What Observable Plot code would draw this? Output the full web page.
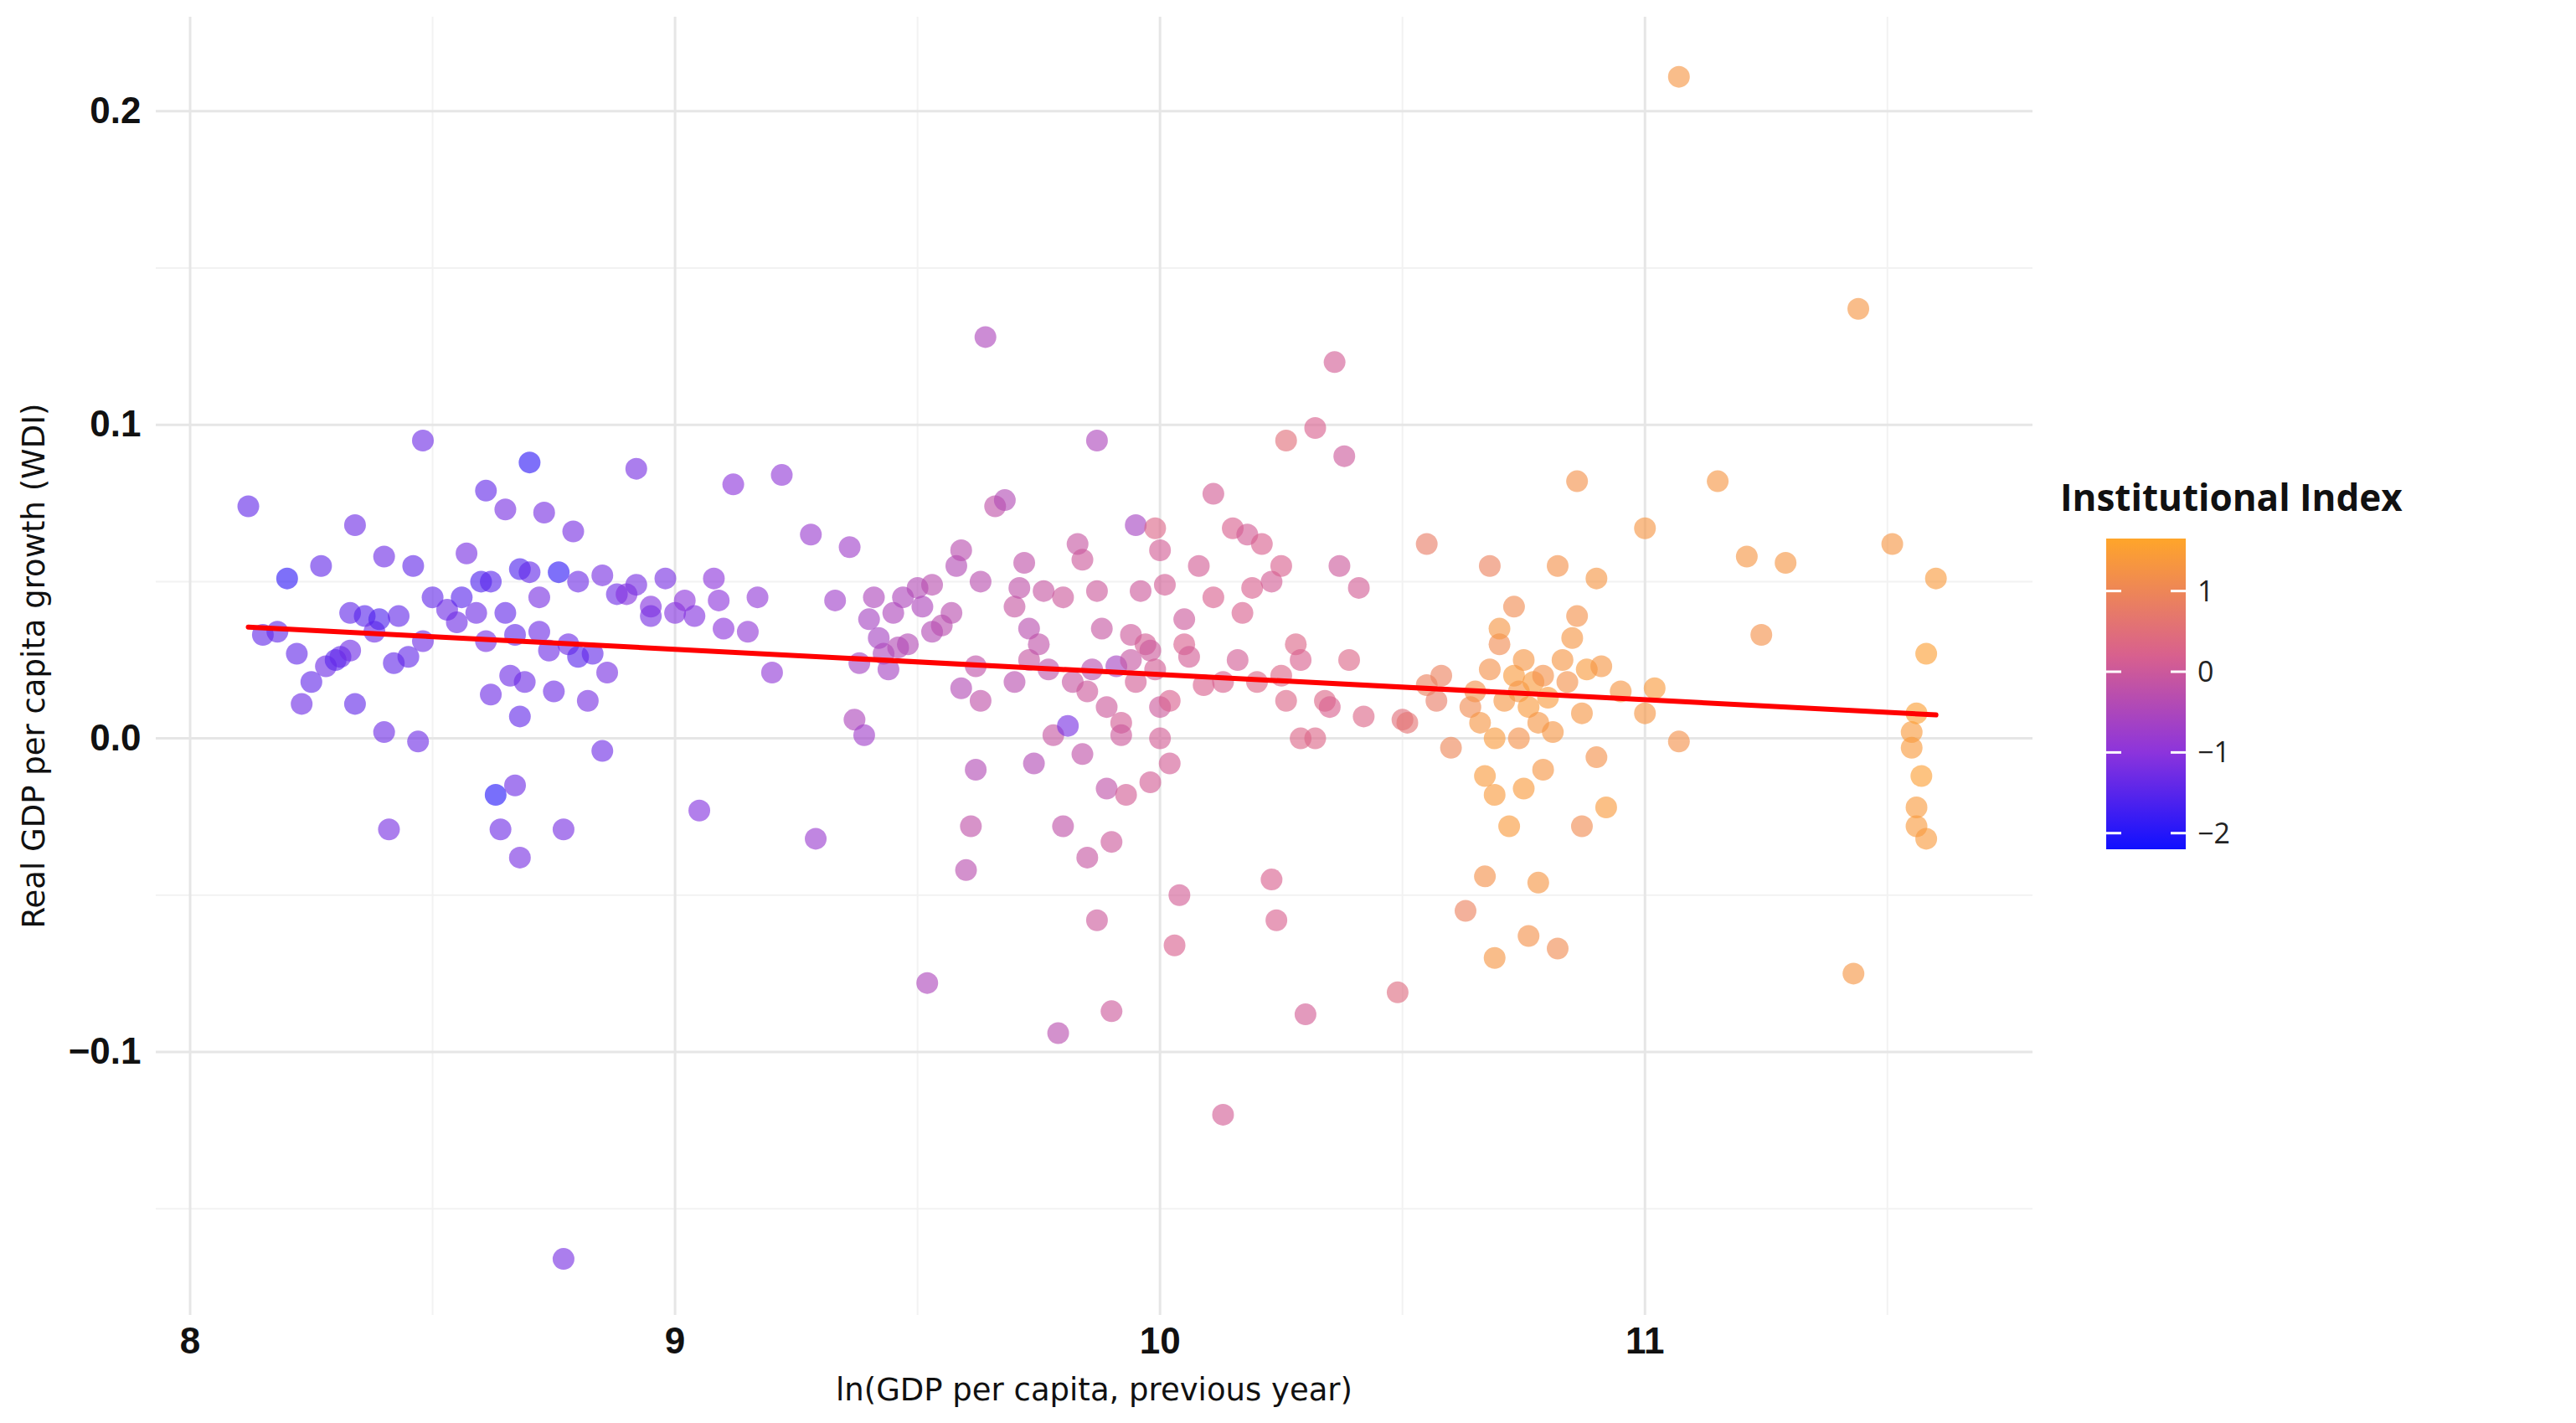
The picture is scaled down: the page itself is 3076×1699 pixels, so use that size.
<!DOCTYPE html>
<html><head><meta charset="utf-8">
<script src="https://cdn.jsdelivr.net/npm/d3@7"></script>
<script src="https://cdn.jsdelivr.net/npm/@observablehq/plot@0.6"></script>
<style>
body{margin:0;background:#fff;width:3076px;height:1699px;position:relative;overflow:hidden}
#chart{position:absolute;left:0;top:0}
.ttl{position:absolute;font-family:"DejaVu Sans",sans-serif;font-size:37px;color:#111}
#legend{position:absolute;left:2440px;top:560px}
</style></head><body>
<div id="chart"></div>
<div class="ttl" style="left:0;width:2427px;padding-left:186px;box-sizing:border-box;text-align:center;top:1638px">ln(GDP per capita, previous year)</div>
<div class="ttl" style="left:40px;top:795px;transform:translate(-50%,-50%) rotate(-90deg);white-space:nowrap">Real GDP per capita growth (WDI)</div>
<div id="legend"></div>
<script>
// [ln GDP per capita prev year, real GDP per capita growth, institutional index]
const pointsLow = [
[8.12,0.074,-1.4],[8.15,0.033,-1.4],[8.18,0.034,-1.4],[8.2,0.051,-1.9],[8.22,0.027,-1.4],[8.23,0.011,-1.3],[8.25,0.018,-1.4],[8.27,0.055,-1.4],[8.28,0.023,-1.3],[8.3,0.025,-1.5],[8.31,0.026,-1.4],[8.33,0.028,-1.3],[8.33,0.040,-1.4],[8.34,0.068,-1.3],[8.34,0.011,-1.4],[8.36,0.039,-1.5],[8.38,0.034,-1.3],[8.39,0.038,-1.6],[8.4,0.058,-1.3],[8.4,0.002,-1.3],[8.41,-0.029,-1.2],[8.42,0.024,-1.4],[8.43,0.039,-1.4],[8.45,0.026,-1.4],[8.46,0.055,-1.4],[8.47,-0.001,-1.3],[8.48,0.031,-1.3],[8.48,0.095,-1.3],[8.5,0.045,-1.4],[8.53,0.041,-1.3],[8.55,0.037,-1.3],[8.56,0.045,-1.5],[8.57,0.059,-1.2],[8.59,0.040,-1.3],[8.6,0.050,-1.6],[8.61,0.031,-1.2],[8.61,0.079,-1.4],[8.62,0.050,-1.5],[8.62,0.014,-1.3],[8.63,-0.018,-2.0],[8.64,-0.029,-1.3],[8.65,0.040,-1.4],[8.65,0.073,-1.2],[8.66,0.020,-1.3],[8.67,0.033,-1.4],[8.67,-0.015,-1.3],[8.68,0.007,-1.4],[8.68,0.054,-1.6],[8.68,-0.038,-1.2],[8.69,0.018,-1.3],[8.7,0.053,-1.4],[8.7,0.088,-1.9],[8.72,0.034,-1.3],[8.72,0.045,-1.2],[8.73,0.072,-1.2],[8.74,0.028,-1.3],[8.75,0.015,-1.3],[8.76,0.053,-1.9],[8.77,-0.029,-1.2],[8.78,0.030,-1.3],[8.79,0.066,-1.2],[8.8,0.050,-1.3],[8.8,0.026,-1.5],[8.77,-0.166,-1.2],[8.82,0.012,-1.2],[8.83,0.027,-1.4],[8.85,0.052,-1.2],[8.85,-0.004,-1.3],[8.86,0.021,-1.2],[8.88,0.046,-1.3],[8.9,0.046,-1.1],[8.92,0.049,-1.2],[8.92,0.086,-1.2],[8.95,0.042,-1.1],[8.95,0.039,-1.2],[8.98,0.051,-1.2],[9.0,0.040,-1.1],[9.02,0.044,-1.0],[9.04,0.039,-1.1],[9.05,-0.023,-1.1],[9.08,0.051,-1.0],[9.09,0.044,-1.0],[9.1,0.035,-1.0],[9.12,0.081,-1.0],[9.15,0.034,-0.9],[9.17,0.045,-0.9],[9.2,0.021,-0.9],[9.22,0.084,-0.9],[9.28,0.065,-0.8],[9.29,-0.032,-0.8],[9.33,0.044,-0.7]
];
const pointsMid = [
[9.36,0.061,-0.7],[9.37,0.006,-0.5],[9.38,0.024,-0.6],[9.39,0.001,-0.7],[9.40,0.038,-0.6],[9.41,0.045,-0.5],[9.42,0.032,-0.6],[9.43,0.027,-0.5],[9.44,0.022,-0.6],[9.45,0.040,-0.5],[9.46,0.029,-0.4],[9.47,0.045,-0.5],[9.48,0.030,-0.4],[9.50,0.048,-0.4],[9.51,0.042,-0.5],[9.52,-0.078,-0.5],[9.53,0.049,-0.3],[9.53,0.034,-0.4],[9.55,0.036,-0.3],[9.57,0.040,-0.3],[9.58,0.055,-0.4],[9.59,0.060,-0.3],[9.59,0.016,-0.4],[9.60,-0.042,-0.3],[9.61,-0.028,-0.2],[9.62,0.023,-0.2],[9.63,0.050,-0.3],[9.63,0.012,-0.2],[9.62,-0.010,-0.4],[9.64,0.128,-0.5],[9.66,0.074,-0.2],[9.68,0.076,-0.4],[9.70,0.042,-0.1],[9.70,0.018,-0.3],[9.71,0.048,-0.2],[9.72,0.056,-0.2],[9.73,0.035,-0.3],[9.73,0.025,-0.1],[9.74,-0.008,-0.4],[9.75,0.030,-0.2],[9.76,0.047,-0.1],[9.77,0.022,-0.2],[9.78,0.001,-0.1],[9.79,-0.094,-0.3],[9.80,-0.028,-0.2],[9.80,0.045,0.0],[9.81,0.004,-1.2],[9.82,0.018,-0.1],[9.83,0.062,-0.1],[9.84,0.057,0.0],[9.84,-0.005,-0.2],[9.85,0.015,0.0],[9.85,-0.038,-0.1],[9.86,0.022,-0.3],[9.87,0.047,0.0],[9.87,-0.058,0.0],[9.87,0.095,-0.5],[9.88,0.035,-0.1],[9.89,0.010,0.0],[9.89,-0.016,-0.2],[9.90,-0.033,0.0],[9.91,0.023,-0.6],[9.92,0.005,0.1],[9.92,0.001,0.0],[9.90,-0.087,0.0],[9.93,-0.018,0.1],[9.94,0.025,-0.1],[9.94,0.033,0.0],[9.95,0.018,0.1],[9.95,0.068,-0.6],[9.96,0.047,0.0],[9.97,0.030,0.1],[9.98,0.028,0.0],[9.99,0.022,0.1],[9.98,-0.014,0.1],[9.99,0.067,0.3],[10.0,0.010,0.0],[10.0,0.000,0.1],[10.0,0.060,0.1],[10.01,0.049,0.1],[10.02,0.012,0.2],[10.02,-0.008,0.1],[10.03,-0.066,0.2],[10.04,-0.050,0.1],[10.05,0.038,0.0],[10.05,0.030,0.2],[10.06,0.026,0.1],[10.08,0.055,0.1],[10.09,0.017,0.2],[10.11,0.078,0.1],[10.11,0.045,0.2],[10.13,-0.120,0.1],[10.13,0.018,0.2],[10.15,0.067,0.2],[10.16,0.025,0.1],[10.17,0.040,0.2],[10.18,0.065,0.1],[10.19,0.048,0.2],[10.20,0.018,0.3],[10.21,0.062,0.2],[10.23,-0.045,0.2],[10.23,0.050,0.1],[10.24,-0.058,0.2],[10.25,0.055,0.2],[10.25,0.020,0.3],[10.26,0.012,0.3],[10.26,0.095,0.5],[10.28,0.030,0.3],[10.29,0.025,0.2],[10.29,0.000,0.3],[10.30,-0.088,0.1],[10.32,0.099,0.2],[10.32,0.000,0.3],[10.34,0.012,0.3],[10.35,0.010,0.2],[10.36,0.120,0.1],[10.37,0.055,0.0],[10.38,0.090,0.0],[10.39,0.025,0.3],[10.41,0.048,0.1],[10.42,0.007,0.3],[10.49,-0.081,0.4],[10.50,0.006,0.5],[10.51,0.005,0.6]
];
const pointsHigh = [
[10.55,0.062,0.8],[10.55,0.017,0.9],[10.57,0.012,0.8],[10.58,0.020,0.9],[10.60,-0.003,1.0],[10.63,-0.055,0.9],[10.64,0.010,1.1],[10.65,0.015,1.2],[10.66,0.005,1.3],[10.67,-0.044,1.2],[10.67,-0.012,1.4],[10.68,0.055,0.9],[10.68,0.022,1.2],[10.69,0.000,1.4],[10.69,-0.018,1.4],[10.69,-0.070,1.3],[10.70,0.030,1.1],[10.70,0.035,1.3],[10.71,0.012,1.3],[10.72,-0.028,1.4],[10.73,0.042,1.1],[10.73,0.020,1.4],[10.74,0.015,1.3],[10.74,0.000,1.2],[10.75,-0.016,1.4],[10.75,0.025,1.3],[10.76,0.010,1.4],[10.76,-0.063,1.2],[10.77,0.018,1.4],[10.78,-0.046,1.3],[10.78,0.005,1.3],[10.79,0.020,1.2],[10.79,-0.010,1.3],[10.80,0.013,1.4],[10.81,0.002,1.3],[10.82,0.055,1.2],[10.82,-0.067,1.1],[10.83,0.025,1.3],[10.84,0.018,1.2],[10.85,0.032,1.3],[10.86,0.039,1.2],[10.86,0.082,1.2],[10.87,0.008,1.3],[10.87,-0.028,1.1],[10.88,0.022,1.4],[10.90,0.051,1.3],[10.90,-0.006,1.2],[10.91,0.023,1.3],[10.92,-0.022,1.4],[10.95,0.015,1.3],[11.0,0.067,1.3],[11.0,0.008,1.3],[11.02,0.016,1.4],[11.07,-0.001,1.2],[11.07,0.211,1.3],[11.15,0.082,1.3],[11.21,0.058,1.3],[11.24,0.033,1.2],[11.29,0.056,1.3],[11.43,-0.075,1.3],[11.44,0.137,1.3],[11.51,0.062,1.3],[11.55,0.002,1.4],[11.55,-0.003,1.4],[11.56,-0.022,1.4],[11.56,-0.028,1.4],[11.57,-0.012,1.5],[11.58,-0.032,1.4],[11.58,0.027,1.5],[11.60,0.051,1.4],[11.56,0.008,1.5]
];
const fitX = [8.12, 11.6];
const fitY = [0.0355, 0.0075];
const xTicks = [8, 9, 10, 11];
const xMinor = [8.5, 9.5, 10.5, 11.5];
const yTicks = [-0.1, 0.0, 0.1, 0.2];
const yMinor = [-0.15, -0.05, 0.05, 0.15];
const legendTicks = [-2, -1, 0, 1];
const colorDomain = [-2.2, -1, 0.2, 1.65];
const colorRange = ["#1010ff", "#8c34dc", "#d8608e", "#ffa52a"];

const pts = [...pointsLow, ...pointsMid, ...pointsHigh].map(([x,y,c]) => ({x,y,c}));
const fit = fitX.map((x,i) => ({x, y: fitY[i]}));
const tickFont = '"Liberation Sans Narrow","Liberation Sans",sans-serif';

const chart = Plot.plot({
  width: 2440, height: 1699,
  marginLeft: 186, marginRight: 13, marginTop: 20, marginBottom: 129,
  x: {domain: [7.93, 11.8], label: null},
  y: {domain: [-0.184, 0.23], label: null},
  color: {type: "linear", domain: colorDomain, range: colorRange, interpolate: "rgb"},
  style: {fontFamily: tickFont, fontSize: "44px", fontWeight: "bold", color: "#111", background: "white"},
  marks: [
    Plot.ruleX(xMinor, {stroke: "#f2f2f2", strokeWidth: 2}),
    Plot.ruleY(yMinor, {stroke: "#f2f2f2", strokeWidth: 2}),
    Plot.ruleX(xTicks, {stroke: "#e6e6e6", strokeWidth: 3}),
    Plot.ruleY(yTicks, {stroke: "#e6e6e6", strokeWidth: 3}),
    Plot.axisX({ticks: xTicks, tickSize: 0, tickPadding: 14, tickFormat: d3.format("d")}),
    Plot.axisY({ticks: yTicks, tickSize: 0, tickPadding: 18, tickFormat: d => d === 0 ? "0.0" : d3.format(".1f")(d).replace("-", "\u2212")}),
    Plot.dot(pts, {x: "x", y: "y", fill: "c", r: 13, fillOpacity: 0.62}),
    Plot.line(fit, {x: "x", y: "y", stroke: "#ff0000", strokeWidth: 6})
  ]
});
document.getElementById("chart").append(chart);

// legend
const lw = 600, lh = 500;
const svg = d3.select("#legend").append("svg").attr("width", lw).attr("height", lh);
svg.append("text").attr("x", 20).attr("y", 50).text("Institutional Index")
  .attr("font-family", '"Open Sans","DejaVu Sans",sans-serif').attr("font-weight", "bold").attr("font-size", 44).attr("fill", "#111");
const barTop = 83, barBot = 454, barX = 75, barW = 95;
const lo = colorDomain[0], hi = colorDomain[colorDomain.length-1];
const ls = d3.scaleLinear().domain([hi, lo]).range([barTop, barBot]);
const grad = svg.append("defs").append("linearGradient").attr("id", "g").attr("x1", 0).attr("x2", 0).attr("y1", 0).attr("y2", 1);
colorDomain.map((d, i) => ({off: (hi - d) / (hi - lo), col: colorRange[i]}))
  .sort((a, b) => a.off - b.off)
  .forEach(s => grad.append("stop").attr("offset", s.off).attr("stop-color", s.col));
svg.append("rect").attr("x", barX).attr("y", barTop).attr("width", barW).attr("height", barBot - barTop).attr("fill", "url(#g)");
legendTicks.forEach(t => {
  const y = ls(t);
  svg.append("line").attr("x1", barX).attr("x2", barX + 18).attr("y1", y).attr("y2", y).attr("stroke", "white").attr("stroke-width", 3);
  svg.append("line").attr("x1", barX + barW - 18).attr("x2", barX + barW).attr("y1", y).attr("y2", y).attr("stroke", "white").attr("stroke-width", 3);
  svg.append("text").attr("x", barX + barW + 14).attr("y", y + 12).text(t < 0 ? "\u2212" + (-t) : t)
    .attr("font-family", '"Open Sans","DejaVu Sans",sans-serif').attr("font-size", 34).attr("fill", "#222");
});
</script>
</body></html>
